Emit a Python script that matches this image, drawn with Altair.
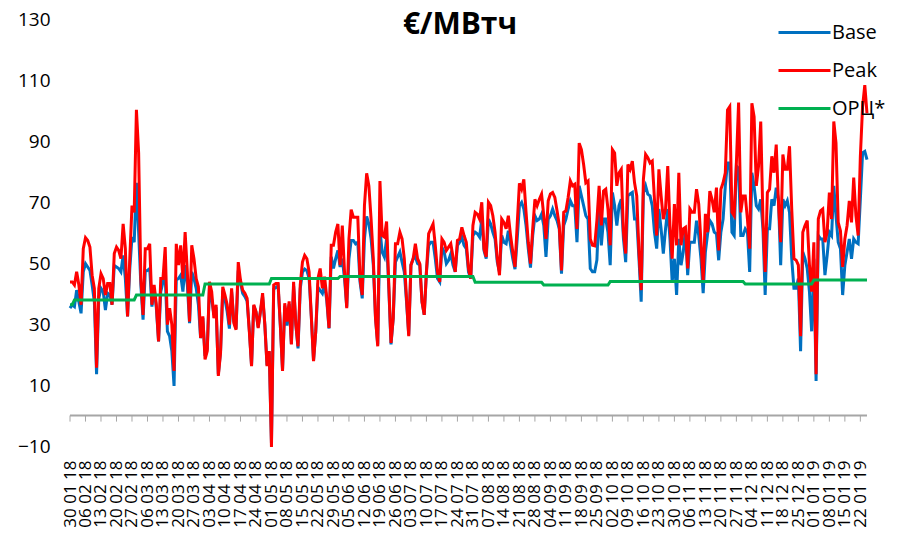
import json
import pandas as pd
import altair as alt

# ---------------- data ----------------
# day index 0 = 30.01.2018, one value per day up to 25.01.2019
tick_labels = [
    "30 01 18", "06 02 18", "13 02 18", "20 02 18", "27 02 18", "06 03 18", "13 03 18",
    "20 03 18", "27 03 18", "03 04 18", "10 04 18", "17 04 18", "24 04 18", "01 05 18",
    "08 05 18", "15 05 18", "22 05 18", "29 05 18", "05 06 18", "12 06 18", "19 06 18",
    "26 06 18", "03 07 18", "10 07 18", "17 07 18", "24 07 18", "31 07 18", "07 08 18",
    "14 08 18", "21 08 18", "28 08 18", "04 09 18", "11 09 18", "18 09 18", "25 09 18",
    "02 10 18", "09 10 18", "16 10 18", "23 10 18", "30 10 18", "06 11 18", "13 11 18",
    "20 11 18", "27 11 18", "04 12 18", "11 12 18", "18 12 18", "25 12 18", "01 01 19",
    "08 01 19", "15 01 19", "22 01 19",
]

peak = [
    43.8, 43.8, 42.8, 47.1, 42.8, 36.3, 54.7, 58.3, 57.4, 55.2,
    46.0, 41.7, 15.7, 41.7, 46.5, 44.9, 39.5, 43.3, 43.3, 36.3,
    53.1, 55.2, 54.1, 51.4, 62.8, 54.7, 32.5, 51.4, 68.8, 66.6,
    100.2, 86.1, 44.9, 33.0, 54.7, 54.7, 56.3, 36.3, 42.8, 36.3,
    24.3, 44.9, 44.9, 55.2, 29.8, 35.2, 29.8, 14.6, 56.3, 49.3,
    55.8, 44.9, 60.1, 47.1, 30.8, 55.8, 51.4, 44.9, 42.2, 25.4,
    32.5, 18.4, 21.1, 43.8, 40.6, 31.9, 36.3, 13.0, 20.5, 42.2,
    39.5, 36.3, 29.8, 41.7, 30.3, 28.1, 50.3, 44.4, 41.1, 40.1,
    38.4, 27.6, 16.2, 36.3, 34.1, 28.7, 34.1, 40.1, 29.8, 16.2,
    21.1, -10.3, 42.8, 43.3, 43.3, 29.8, 14.6, 36.8, 30.8, 37.4,
    23.3, 43.8, 29.8, 22.7, 42.8, 50.3, 52.5, 51.4, 47.1, 32.5,
    17.8, 27.6, 44.9, 48.2, 41.7, 45.5, 38.4, 28.7, 55.8,
    55.8, 60.1, 62.8, 49.3, 62.3, 47.1, 35.2, 57.9, 67.5, 65.0,
    65.0, 65.0, 44.9, 39.5, 68.8, 79.4, 75.3, 64.4, 51.4, 31.9,
    22.7, 76.9, 59.0, 58.5, 63.6, 42.8, 23.8, 31.9, 56.3, 56.3,
    60.1, 57.9, 51.4, 38.4, 26.0, 49.3, 51.4, 56.3, 51.4, 49.8,
    37.3, 33.0, 47.1, 59.6, 61.2, 62.8, 55.8, 47.1, 43.8, 57.9,
    56.8, 54.1, 55.2, 56.3, 52.0, 47.1, 57.4, 57.9, 61.7, 59.0,
    56.8, 48.2, 44.9, 62.3, 66.6, 66.0, 64.4, 69.9, 54.7, 52.0,
    69.9, 68.8, 65.5, 60.1, 51.4, 46.0, 64.4, 63.3, 61.2, 65.5,
    59.0, 53.6, 48.7, 62.8, 76.1, 74.2, 77.4, 66.6, 56.8, 49.8,
    61.2, 70.9, 68.8, 70.9, 72.6, 65.5, 57.9, 70.4, 72.6, 73.1,
    71.5, 67.1, 62.3, 47.6, 66.6, 67.1, 71.5, 76.9, 75.3, 75.8,
    61.2, 89.3, 87.2, 82.3, 76.3, 76.9, 57.9, 55.8, 55.6, 64.0,
    75.3, 62.3, 73.6, 74.2, 67.7, 55.8, 87.2, 86.1, 75.3, 79.6,
    80.7, 60.1, 53.1, 82.3, 80.7, 83.4, 76.3, 72.0, 53.6, 41.1,
    77.4, 85.6, 84.5, 82.8, 83.4, 70.9, 59.0, 80.7, 72.0, 64.4,
    67.7, 81.8, 62.3, 51.4, 69.3, 55.8, 79.6, 55.8, 61.2, 61.7,
    48.2, 67.7, 66.6, 66.6, 74.2, 69.3, 56.8, 43.8, 66.1, 60.1,
    73.6, 70.9, 66.6, 74.7, 54.1, 74.2, 76.3, 79.6, 100.2,
    101.3, 66.6, 65.5, 82.8, 102.6, 66.6, 72.0, 72.0, 64.4, 54.7,
    102.4, 98.0, 75.3, 81.8, 96.4, 64.4, 47.1, 73.1, 74.2, 85.0,
    79.6, 88.8, 69.9, 56.8, 85.6, 80.7, 80.7, 88.3, 67.7, 51.4,
    50.9, 49.3, 26.0, 60.1, 62.3, 63.9, 49.3, 40.6, 56.8, 13.5,
    64.4, 67.1, 67.7, 56.8, 60.1, 73.1, 64.4, 96.4, 89.3, 63.3,
    60.6, 48.7, 57.9, 62.3, 70.4, 63.3, 78.0, 65.5, 59.0, 85.0,
    101.3, 108.3, 99.1,
]

base = [
    35.2, 36.3, 35.7, 41.1, 37.3, 33.5, 47.1, 49.8, 48.7, 47.6,
    42.8, 37.3, 13.5, 38.4, 41.7, 40.6, 34.6, 40.1, 39.5, 36.3,
    49.2, 48.7, 48.2, 47.1, 52.5, 44.9, 32.5, 48.0, 58.5, 56.8,
    76.3, 60.1, 42.8, 31.4, 47.1, 47.6, 48.2, 35.7, 41.7, 35.2,
    24.3, 40.6, 43.8, 45.5, 27.6, 26.0, 21.1, 9.7, 44.4, 44.9,
    46.0, 40.6, 49.3, 42.8, 30.3, 47.1, 44.9, 41.7, 36.3, 25.4,
    32.0, 19.5, 22.0, 42.0, 38.0, 33.0, 35.5, 13.5, 21.0, 41.0,
    38.0, 34.0, 28.5, 40.5, 31.0, 28.5, 47.5, 43.5, 40.0, 39.0,
    37.5, 28.0, 16.5, 36.0, 34.0, 29.0, 34.0, 39.0, 30.0, 16.5,
    21.0, -9.0, 41.5, 42.0, 42.5, 29.5, 15.0, 36.0, 29.5, 36.5,
    23.5, 42.5, 30.0, 22.0, 41.5, 47.0, 48.0, 47.5, 45.0, 32.5,
    18.0, 27.5, 42.0, 41.0, 40.0, 43.0, 37.5, 28.5, 52.0,
    48.2, 51.4, 54.1, 48.7, 51.4, 44.9, 35.7, 51.4, 57.4, 57.4,
    56.3, 56.8, 43.8, 38.4, 57.9, 65.3, 62.8, 57.9, 49.3, 31.9,
    23.3, 61.2, 53.6, 52.0, 57.9, 41.7, 23.3, 31.9, 50.3, 52.0,
    53.6, 50.3, 47.1, 37.3, 26.5, 49.3, 51.4, 52.0, 49.8, 49.3,
    37.3, 33.0, 47.1, 55.8, 56.8, 56.8, 51.4, 44.9, 43.8, 55.2,
    53.6, 49.8, 50.9, 53.0, 49.3, 47.1, 55.8, 56.8, 58.5, 55.8,
    54.7, 47.1, 44.9, 59.0, 60.1, 59.6, 58.5, 64.4, 54.1, 51.4,
    64.4, 62.8, 60.1, 57.9, 50.3, 47.1, 59.0, 56.8, 56.3, 60.6,
    55.8, 51.4, 48.0, 57.9, 68.8, 69.9, 67.7, 62.3, 54.7, 48.5,
    59.0, 65.5, 63.9, 64.4, 66.0, 62.3, 52.0, 64.4, 65.5, 67.7,
    65.5, 63.9, 61.2, 46.5, 62.3, 64.4, 67.7, 70.4, 68.8, 68.8,
    56.8, 75.3, 72.0, 68.8, 65.5, 64.4, 48.2, 47.1, 47.1, 51.0,
    68.8, 55.8, 64.4, 64.4, 60.1, 49.3, 73.1, 68.8, 62.3, 68.8,
    70.9, 57.9, 50.3, 72.0, 72.6, 73.1, 64.4, 64.4, 51.4, 37.3,
    73.0, 75.3, 72.6, 72.0, 68.8, 60.1, 54.7, 67.7, 61.2, 53.1,
    61.2, 67.7, 57.9, 43.8, 51.4, 39.5, 57.9, 49.3, 53.6, 61.2,
    46.0, 56.8, 56.8, 56.8, 63.9, 59.0, 51.4, 40.1, 53.6, 59.6,
    63.9, 62.8, 60.1, 59.6, 50.9, 60.1, 64.4, 75.3, 82.8,
    82.8, 60.1, 59.0, 81.8, 81.0, 59.0, 59.0, 61.2, 60.1, 47.1,
    79.6, 75.3, 68.8, 67.7, 70.9, 61.2, 39.5, 61.2, 61.2, 70.9,
    68.8, 74.7, 70.9, 49.3, 70.9, 68.8, 70.4, 66.6, 51.4, 41.7,
    41.7, 44.9, 21.1, 53.6, 51.4, 48.2, 40.6, 27.6, 51.4, 11.3,
    59.0, 57.9, 57.9, 46.0, 52.5, 60.1, 59.0, 75.3, 65.5, 56.8,
    54.7, 39.5, 49.3, 53.6, 57.9, 51.4, 57.9, 56.8, 56.3, 70.9,
    86.1, 86.6, 83.9,
]

# ОРЦ* is a monthly value: first day index of each month and its value
orc_month_start = [0, 2, 30, 61, 91, 122, 152, 183, 214, 244, 275, 305, 336]
orc_value = [36.3, 37.9, 39.5, 43.1, 44.9, 45.6, 45.6, 43.7, 42.8, 43.9, 43.9, 43.1, 44.4]

series_names = ["Base", "Peak", "ОРЦ*"]
series_colors = ["#0070C0", "#FF0000", "#00B050"]
y_ticks = [-10, 10, 30, 50, 70, 90, 110, 130]
title_text = "€/МВтч"

# ---------------- tables ----------------
last_day = len(peak) - 1
days = list(range(len(peak)))
base_df = pd.DataFrame({"day": days, "value": base, "series": "Base"})
peak_df = pd.DataFrame({"day": days, "value": peak, "series": "Peak"})

orc_rows = []
for i, s in enumerate(orc_month_start):
    e = orc_month_start[i + 1] - 1 if i + 1 < len(orc_month_start) else last_day
    orc_rows.append({"day": s, "value": orc_value[i], "series": "ОРЦ*"})
    if e != s:
        orc_rows.append({"day": e, "value": orc_value[i], "series": "ОРЦ*"})
orc_df = pd.DataFrame(orc_rows)

tick_days = [7 * i for i in range(len(tick_labels))]
ticks_df = pd.DataFrame({"day": tick_days, "y0": 0.0, "y1": -2.0})
zero_df = pd.DataFrame({"day": [0], "day2": [last_day], "y0": [0.0]})

# ---------------- encodings ----------------
FONT = "Open Sans"
label_expr = json.dumps(tick_labels, ensure_ascii=False) + "[round(datum.value / 7)]"

x_axis = alt.Axis(
    values=tick_days, labelExpr=label_expr, labelAngle=270, labelFont=FONT,
    labelFontSize=17, labelColor="black", labelPadding=14, labelOverlap=False,
    labelFlush=False, domain=False, ticks=False, grid=False, title=None,
)
x_scale = alt.Scale(domain=[0, last_day], nice=False, zero=False)
y_axis = alt.Axis(
    values=y_ticks, labelFont=FONT, labelFontSize=19, labelColor="black",
    labelPadding=20, domain=False, ticks=False, grid=False, title=None,
)
y_scale = alt.Scale(domain=[-10, 130], nice=False, zero=False)

color_scale = alt.Scale(domain=series_names, range=series_colors)
legend = alt.Legend(
    title=None, orient="none", legendX=707, legendY=-14, direction="vertical",
    symbolType="stroke", symbolSize=2704, symbolStrokeWidth=3,
    labelFont=FONT, labelFontSize=20, labelColor="black", labelOffset=0,
    rowPadding=0,
)


def x_enc(field="day"):
    return alt.X(f"{field}:Q", scale=x_scale, axis=x_axis)


def y_enc(field="value"):
    return alt.Y(f"{field}:Q", scale=y_scale, axis=y_axis)


zero_line = alt.Chart(zero_df).mark_rule(color="#A6A6A6", strokeWidth=2).encode(
    x=x_enc(), x2="day2:Q", y=y_enc("y0")
)
tick_marks = alt.Chart(ticks_df).mark_rule(color="#A6A6A6", strokeWidth=1).encode(
    x=x_enc(), y=y_enc("y0"), y2="y1:Q"
)


def line_layer(df):
    return alt.Chart(df).mark_line(strokeWidth=3).encode(
        x=x_enc(), y=y_enc(),
        color=alt.Color("series:N", scale=color_scale, legend=legend),
    )


title_layer = alt.Chart(pd.DataFrame({"t": [title_text]})).mark_text(
    font=FONT, fontWeight="bold", fontSize=30, align="center",
    baseline="alphabetic", color="black",
).encode(text="t:N", x=alt.value(390), y=alt.value(15))

chart = alt.layer(
    zero_line, tick_marks, line_layer(base_df), line_layer(peak_df),
    line_layer(orc_df), title_layer,
).properties(
    width=797, height=427,
    autosize=alt.AutoSizeParams(type="none"),
    padding={"left": 62, "top": 11, "right": 25, "bottom": 90},
).configure_view(stroke=None)

chart.save("out.html", embed_options={"renderer": "svg", "actions": False})
